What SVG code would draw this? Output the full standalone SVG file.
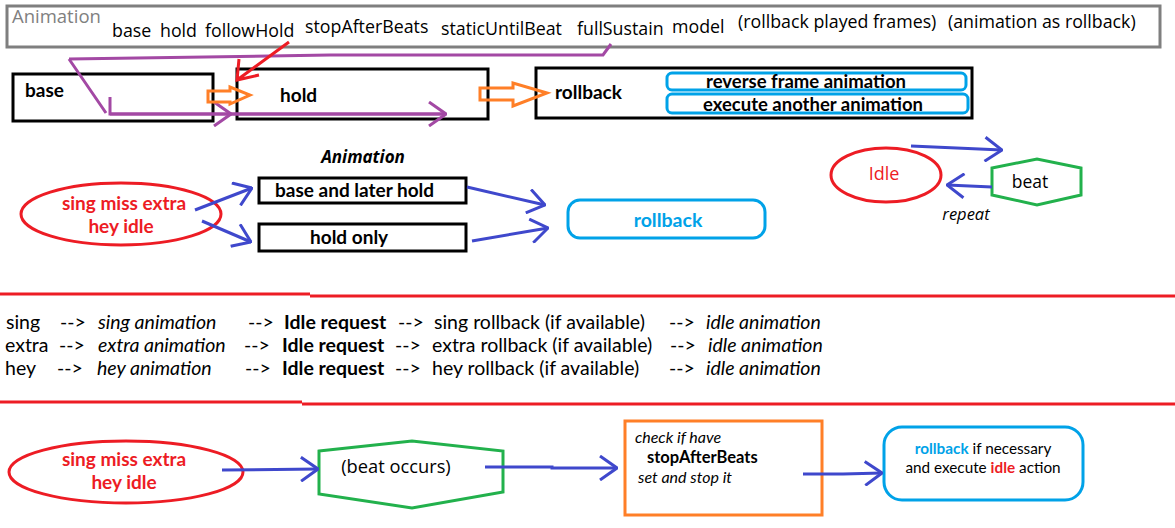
<svg xmlns="http://www.w3.org/2000/svg" width="1175" height="528" viewBox="0 0 1175 528">
<style>
.seg{font-family:"Open Sans","Noto Sans",sans-serif;fill:#000}
.cal{font-family:Lato,"Liberation Sans",sans-serif;fill:#000}
.b{font-weight:bold}
.i{font-style:italic}
.box{fill:none;stroke:#000;stroke-width:3}
.cy{fill:none;stroke:#00a2e8;stroke-width:3}
.red{fill:none;stroke:#ed1c24;stroke-width:3}
.grn{fill:none;stroke:#22b14c;stroke-width:3}
.blue{fill:none;stroke:#3f48cc;stroke-width:3}
.pur{fill:none;stroke:#a349a4;stroke-width:3}
.org{fill:none;stroke:#ff7f27;stroke-width:3}
.hdr{font-size:17.8px}
.tbl{font-size:19.5px}
.lbl{font-size:19px}
</style>
<defs>
<marker id="ab" markerUnits="userSpaceOnUse" viewBox="0 0 20 26" refX="19" refY="13" markerWidth="20" markerHeight="26" orient="auto">
<path d="M2,1 L19,13 L2,25" fill="none" stroke="#3f48cc" stroke-width="3"/>
</marker>
<marker id="ap" markerUnits="userSpaceOnUse" viewBox="0 0 20 26" refX="19" refY="13" markerWidth="20" markerHeight="26" orient="auto">
<path d="M2,1 L19,13 L2,25" fill="none" stroke="#a349a4" stroke-width="3"/>
</marker>
</defs>
<rect width="1175" height="528" fill="#fff"/>

<g id="header">
<rect x="7" y="6" width="1153" height="41" fill="none" stroke="#7f7f7f" stroke-width="3"/>
<text class="seg" x="12" y="23" font-size="18.5" style="fill:#808080">Animation</text>
<text class="seg hdr" x="112" y="37">base</text>
<text class="seg hdr" x="160" y="37">hold</text>
<text class="seg hdr" x="205" y="37">followHold</text>
<text class="seg hdr" x="305" y="33">stopAfterBeats</text>
<text class="seg hdr" x="441" y="35">staticUntilBeat</text>
<text class="seg hdr" x="577" y="35">fullSustain</text>
<text class="seg hdr" x="672" y="33">model</text>
<text class="seg hdr" x="738" y="28">(rollback played frames)</text>
<text class="seg hdr" x="948" y="28">(animation as rollback)</text>
</g>

<g id="node-base">
<rect class="box" x="13" y="74" width="200" height="47"/>
<text class="cal b lbl" x="25" y="97">base</text>
</g>
<g id="node-hold">
<rect class="box" x="237" y="69" width="251" height="50"/>
<text class="cal b lbl" x="280" y="102">hold</text>
</g>
<g id="node-rollback">
<rect class="box" x="536" y="68" width="436" height="50"/>
<text class="cal b lbl" x="555" y="99">rollback</text>
<rect class="cy" x="667" y="73" width="299" height="17" rx="5"/>
<text class="cal b" x="806" y="88" font-size="18.5" text-anchor="middle">reverse frame animation</text>
<rect class="cy" x="667" y="94" width="301" height="19" rx="5"/>
<text class="cal b" x="813" y="111" font-size="18.5" text-anchor="middle">execute another animation</text>
</g>

<g id="section2-title">
<text class="seg b i" x="363" y="163" font-size="17" text-anchor="middle">Animation</text>
</g>
<g id="node-events1">
<ellipse class="red" cx="121" cy="214" rx="100" ry="31"/>
<text class="cal b lbl" x="124" y="210" text-anchor="middle" style="fill:#ed1c24">sing miss extra</text>
<text class="cal b lbl" x="121" y="233" text-anchor="middle" style="fill:#ed1c24">hey idle</text>
</g>
<g id="node-base-later-hold">
<rect class="box" x="259" y="178" width="207" height="25"/>
<text class="cal b lbl" x="275" y="197">base and later hold</text>
</g>
<g id="node-hold-only">
<rect class="box" x="259" y="224" width="207" height="27"/>
<text class="cal b lbl" x="310" y="244">hold only</text>
</g>
<g id="node-rollback2">
<rect class="cy" x="568" y="200" width="197" height="38" rx="12"/>
<text class="cal b" x="668" y="227" font-size="19.5" text-anchor="middle" style="fill:#00a2e8">rollback</text>
</g>
<g id="node-idle">
<ellipse class="red" cx="886" cy="175" rx="55" ry="27"/>
<text class="seg" x="884" y="180" font-size="18" text-anchor="middle" style="fill:#ed1c24">Idle</text>
</g>
<g id="node-beat">
<polygon class="grn" points="992,168 1037,159 1081,168 1081,195 1037,205 992,195"/>
<text class="seg" x="1030" y="188" font-size="17.5" text-anchor="middle">beat</text>
</g>
<text class="seg i" x="966" y="220" font-size="16.5" text-anchor="middle">repeat</text>

<g id="separators">
<path d="M0,294 H310 M310,296 H1175" class="red"/>
<path d="M0,402 H302 M302,404 H1175" class="red"/>
</g>

<g id="table" class="cal tbl">
<text x="6" y="329">sing</text><text x="60" y="329">--&gt;</text><text class="i" x="98" y="329">sing animation</text><text x="248" y="329">--&gt;</text><text class="b" x="284" y="329">Idle request</text><text x="398" y="329">--&gt;</text><text x="434" y="329">sing rollback (if available)</text><text x="669" y="329">--&gt;</text><text class="i" x="706" y="329">idle animation</text>
<text x="5" y="352">extra</text><text x="59" y="352">--&gt;</text><text class="i" x="98" y="352">extra animation</text><text x="244" y="352">--&gt;</text><text class="b" x="282" y="352">Idle request</text><text x="395" y="352">--&gt;</text><text x="432" y="352">extra rollback (if available)</text><text x="670" y="352">--&gt;</text><text class="i" x="708" y="352">idle animation</text>
<text x="5" y="375">hey</text><text x="57" y="375">--&gt;</text><text class="i" x="97" y="375">hey animation</text><text x="245" y="375">--&gt;</text><text class="b" x="282" y="375">Idle request</text><text x="395" y="375">--&gt;</text><text x="432" y="375">hey rollback (if available)</text><text x="669" y="375">--&gt;</text><text class="i" x="706" y="375">idle animation</text>
</g>

<g id="node-events2">
<ellipse class="red" cx="126" cy="472" rx="117" ry="31"/>
<text class="cal b lbl" x="124" y="466" text-anchor="middle" style="fill:#ed1c24">sing miss extra</text>
<text class="cal b lbl" x="124" y="489" text-anchor="middle" style="fill:#ed1c24">hey idle</text>
</g>
<g id="node-beat-occurs">
<polygon class="grn" points="319,451 412,441 503,451 503,492 412,508 319,494"/>
<text class="seg" x="396" y="473" font-size="18.3" text-anchor="middle">(beat occurs)</text>
</g>
<g id="node-check">
<rect x="625" y="421" width="197" height="94" fill="none" stroke="#ff7f27" stroke-width="3"/>
<text class="cal i" x="635" y="443" font-size="16">check if have</text>
<text class="cal b" x="647" y="463" font-size="16.5">stopAfterBeats</text>
<text class="cal i" x="638" y="483" font-size="16">set and stop it</text>
</g>
<g id="node-result">
<rect class="cy" x="884" y="427" width="199" height="73" rx="18"/>
<text class="cal" x="983" y="454" font-size="15.3" text-anchor="middle"><tspan class="b" style="fill:#00a2e8">rollback</tspan> if necessary</text>
<text class="cal" x="983" y="473" font-size="15.3" text-anchor="middle">and execute <tspan class="b" style="fill:#ed1c24">idle</tspan> action</text>
</g>

<g id="connectors">
<path class="pur" d="M69,59 L330,55 L590,55 L603,55 L611,44"/>
<path class="pur" d="M69,59 L106,113 M110,97 L110,114 L445,114"/>
<path class="pur" d="M110,114 L231,114" marker-end="url(#ap)"/>
<path class="pur" d="M231,114 L446,114" marker-end="url(#ap)"/>
<path class="red" d="M289,42 L237,80 M239,59 L237,80 L259,75"/>
<polygon class="org" points="208,91 230,91 230,87 250,95 230,104 230,102 208,102"/>
<polygon class="org" points="480,88 513,88 513,83 547,93 513,106 513,100 480,100"/>
<path class="blue" d="M195,210 L252,188" marker-end="url(#ab)"/>
<path class="blue" d="M202,221 L251,242" marker-end="url(#ab)"/>
<path class="blue" d="M467,187 L545,205" marker-end="url(#ab)"/>
<path class="blue" d="M472,241 L548,228" marker-end="url(#ab)"/>
<path class="blue" d="M911,146 L1002,150" marker-end="url(#ab)"/>
<path class="blue" d="M992,187 L947,185" marker-end="url(#ab)"/>
<path class="blue" d="M222,470 L318,469" marker-end="url(#ab)"/>
<path class="blue" d="M485,467 L552,467 L552,468 L617,468" marker-end="url(#ab)"/>
<path class="blue" d="M803,474 L843,474 L882,473" marker-end="url(#ab)"/>
</g>
</svg>
